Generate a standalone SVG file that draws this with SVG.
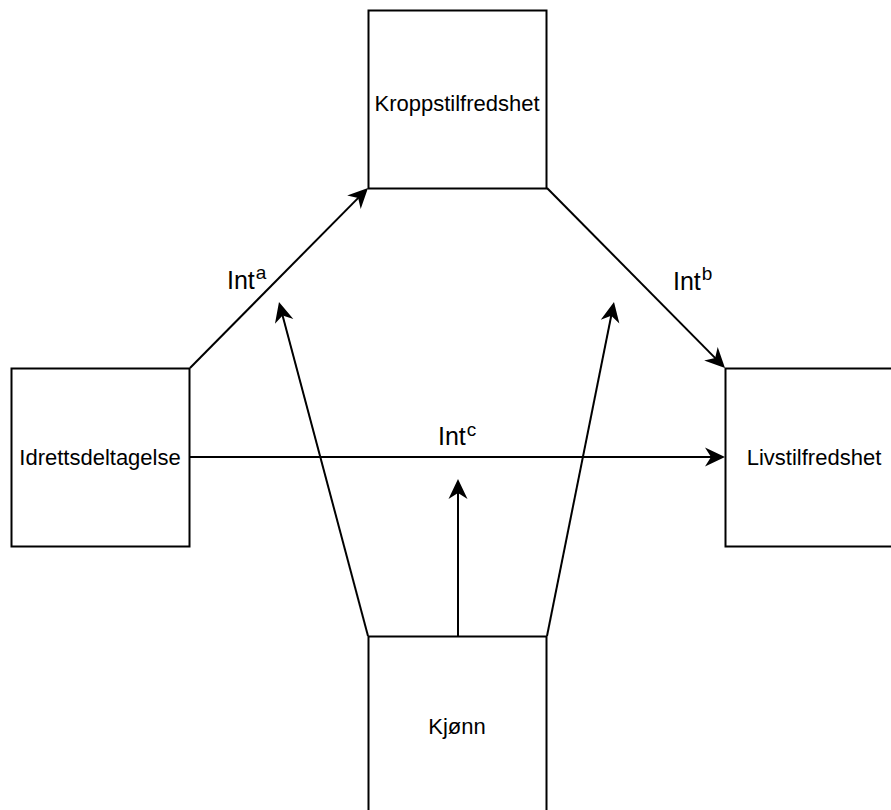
<svg xmlns="http://www.w3.org/2000/svg" width="891" height="810" viewBox="0 0 891 810">
  <style>
    .box { fill: #ffffff; stroke: #000000; stroke-width: 2; }
    .lbl { font-family: "Liberation Sans", Arial, sans-serif; font-size: 22px; fill: #000000; text-anchor: middle; }
    .edge { fill: none; stroke: #000000; stroke-width: 2; marker-end: url(#arrow); }
    .elbl { font-family: "Liberation Sans", Arial, sans-serif; font-size: 25px; fill: #000000; }
    .sup { font-size: 19px; }
  </style>
  <defs>
    <!-- classic notched arrowhead; tip sits 10px beyond the line end -->
    <marker id="arrow" markerUnits="userSpaceOnUse" orient="auto" refX="0" refY="0"
            viewBox="-12 -11 24 22" markerWidth="24" markerHeight="22" overflow="visible">
      <path d="M10,0 L-10,-9.5 L-4,0 L-10,9.5 Z" fill="#000000" stroke="none"/>
    </marker>
  </defs>

  <rect width="891" height="810" fill="#ffffff"/>

  <!-- connectors -->
  <g id="edges">
    <line class="edge" x1="190" y1="368" x2="360.97" y2="195.11"/>
    <line class="edge" x1="547" y1="188" x2="717.97" y2="360.89"/>
    <line class="edge" x1="190" y1="457" x2="715" y2="457"/>
    <line class="edge" x1="368" y1="636" x2="281.57" y2="311.66"/>
    <line class="edge" x1="547" y1="636" x2="612.03" y2="311.8"/>
    <line class="edge" x1="458" y1="636" x2="458" y2="489"/>
    <text class="elbl" x="227" y="289">Int<tspan class="sup" dx="1" dy="-10">a</tspan></text>
    <text class="elbl" x="673" y="290">Int<tspan class="sup" dx="1" dy="-10">b</tspan></text>
    <text class="elbl" x="438" y="445">Int<tspan class="sup" dx="1" dy="-9">c</tspan></text>
  </g>

  <!-- nodes -->
  <g id="kroppstilfredshet">
    <rect class="box" x="368.5" y="10.5" width="178" height="178"/>
    <text class="lbl" x="457" y="111">Kroppstilfredshet</text>
  </g>
  <g id="idrettsdeltagelse">
    <rect class="box" x="11.5" y="368.5" width="178" height="178"/>
    <text class="lbl" x="100" y="465">Idrettsdeltagelse</text>
  </g>
  <g id="livstilfredshet">
    <rect class="box" x="725.5" y="368.5" width="178" height="178"/>
    <text class="lbl" x="814" y="465">Livstilfredshet</text>
  </g>
  <g id="kjonn">
    <rect class="box" x="368.5" y="636.5" width="178" height="178"/>
    <text class="lbl" x="457" y="734">Kjønn</text>
  </g>
</svg>
